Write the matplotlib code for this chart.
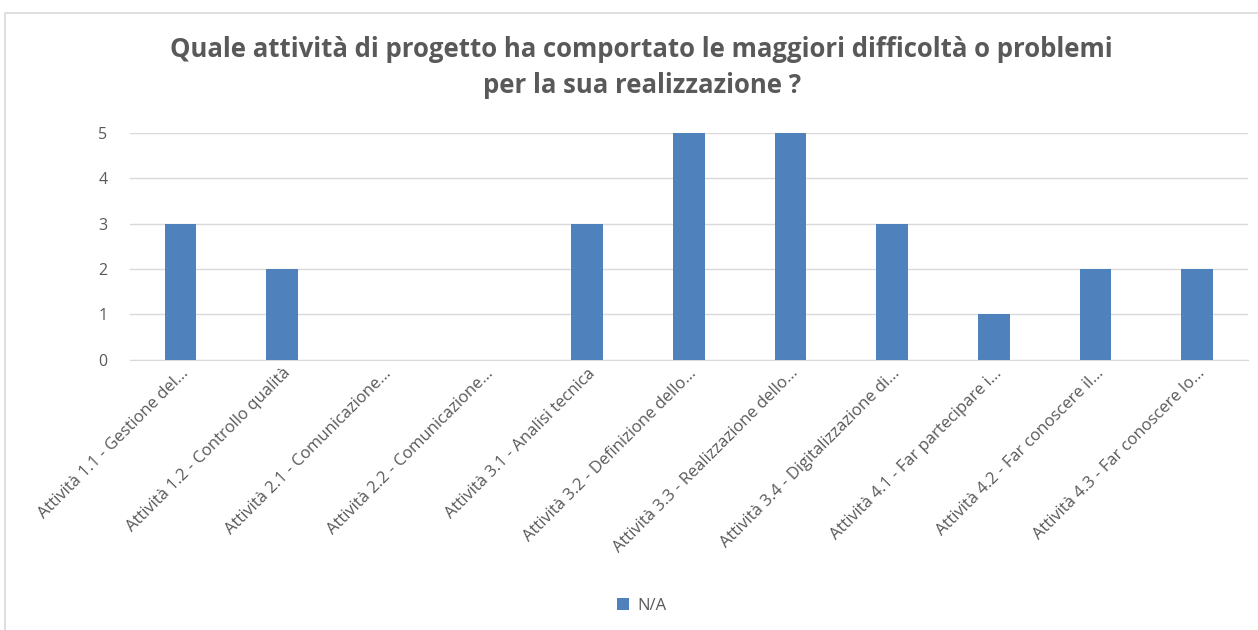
import matplotlib.pyplot as plt
from matplotlib.patches import Rectangle

categories = [
    "Attività 1.1 - Gestione del...",
    "Attività 1.2 - Controllo qualità",
    "Attività 2.1 - Comunicazione...",
    "Attività 2.2 - Comunicazione...",
    "Attività 3.1 - Analisi tecnica",
    "Attività 3.2 - Definizione dello...",
    "Attività 3.3 - Realizzazione dello...",
    "Attività 3.4 - Digitalizzazione di...",
    "Attività 4.1 - Far partecipare i...",
    "Attività 4.2 - Far conoscere il...",
    "Attività 4.3 - Far conoscere lo...",
]
values = [3, 2, 0, 0, 3, 5, 5, 3, 1, 2, 2]
series_name = "N/A"

plt.rcParams['font.family'] = ['Open Sans', 'DejaVu Sans']

fig = plt.figure(figsize=(12.58, 6.30), dpi=100)
fig.patches.append(Rectangle((0.004, -0.01), 1.0, 0.99, transform=fig.transFigure,
                             fill=False, edgecolor='#d9d9d9', linewidth=1.2))

ax = fig.add_axes([0.103, 0.429, 0.889, 0.36])
x = range(len(categories))
ax.bar(x, values, width=0.31, color='#4f81bd', label=series_name, zorder=3)

ax.set_xlim(-0.5, len(categories) - 0.5)
ax.set_ylim(0, 5)
ax.set_yticks(range(6))
ax.yaxis.grid(True, color='#d9d9d9', linewidth=1)
ax.set_axisbelow(True)
for s in ['top', 'right', 'left']:
    ax.spines[s].set_visible(False)
ax.spines['bottom'].set_color('#d9d9d9')
ax.tick_params(axis='both', length=0, colors='#595959', labelsize=11.5)
ax.tick_params(axis='y', pad=16)
ax.tick_params(axis='x', pad=4)
ax.set_xticks(list(x))
ax.set_xticklabels(categories, rotation=45, ha='right', va='top', rotation_mode='anchor',
                   fontsize=12)

fig.text(0.51, 0.893, "Quale attività di progetto ha comportato le maggiori difficoltà o problemi\nper la sua realizzazione ?",
         ha='center', va='center', fontsize=18.5, fontweight='bold', color='#595959',
         linespacing=1.45)

fig.legend(loc='center', bbox_to_anchor=(0.51, 0.038), frameon=False,
           handlelength=0.7, handleheight=0.7, handletextpad=0.5,
           fontsize=12, labelcolor='#595959')

fig.savefig('out.png', dpi=100)
